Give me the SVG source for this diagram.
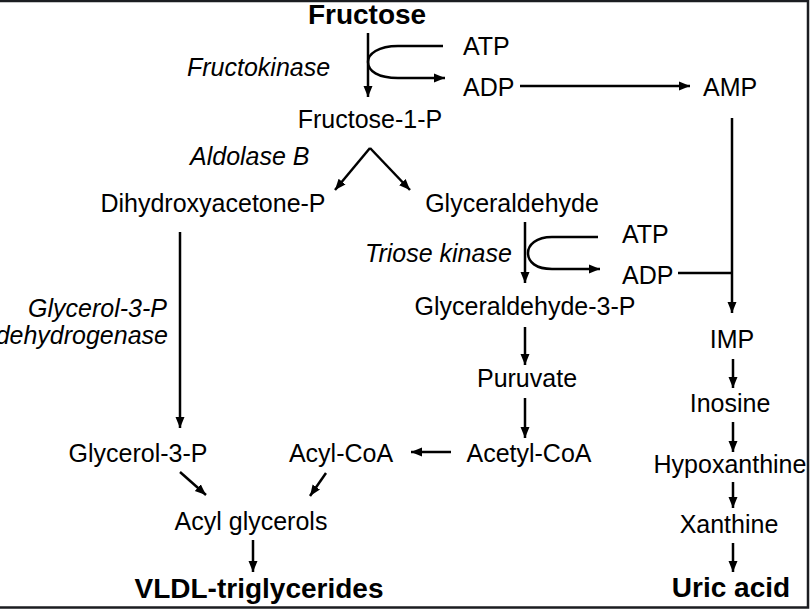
<svg xmlns="http://www.w3.org/2000/svg" width="810" height="609" viewBox="0 0 810 609">
<defs>
<marker id="ah" markerUnits="userSpaceOnUse" markerWidth="12" markerHeight="12" viewBox="0 0 12 12" refX="11" refY="6" orient="auto">
<path d="M0,1.5 L11,6 L0,10.5 Z" fill="#000"/>
</marker>
<style>
text{font-family:"Liberation Sans",Arial,sans-serif;font-size:25px;fill:#000}
.b{font-weight:bold;font-size:28px}
.i{font-style:italic}
.c{text-anchor:middle}
.e{text-anchor:end}
.ln{fill:none;stroke:#000;stroke-width:2.5}
.ar{marker-end:url(#ah)}
.bd{stroke:#1b1d21;stroke-width:2.5;fill:none}
</style>
</defs>
<rect width="810" height="609" fill="#fff"/>
<path class="bd" d="M0,1 H808 V607.5 H0"/>

<g id="connectors">
<path class="ln ar" d="M368,33 V97"/>
<path class="ln ar" d="M443,46 L398,46 C378,46 368,54 368,62 C368,71 378,78 398,78 L445,78"/>
<path class="ln ar" d="M520,86 H690"/>
<path class="ln ar" d="M732,118 V313"/>
<path class="ln" d="M678,273 H732"/>
<path class="ln ar" d="M370,148 L335,190"/>
<path class="ln ar" d="M370,148 L410,190"/>
<path class="ln ar" d="M525,222 V283"/>
<path class="ln ar" d="M598,237 L552,237 C536,237 528,245 528,253 C528,262 536,269 552,269 L600,269"/>
<path class="ln ar" d="M180,232 V428"/>
<path class="ln ar" d="M525,327 V365"/>
<path class="ln ar" d="M525,398 V438"/>
<path class="ln ar" d="M451,452 H411"/>
<path class="ln ar" d="M180,472 L206,495"/>
<path class="ln ar" d="M326,473 L310,496"/>
<path class="ln ar" d="M253,540 V572"/>
<path class="ln ar" d="M733,359 V388"/>
<path class="ln ar" d="M733,422 V452"/>
<path class="ln ar" d="M733,482 V508"/>
<path class="ln ar" d="M733,543 V572"/>
</g>

<g id="fructose"><text class="b c" x="367" y="24">Fructose</text></g>
<g id="fructokinase"><text class="i" x="187" y="76">Fructokinase</text></g>
<g id="atp1"><text x="463" y="55">ATP</text></g>
<g id="adp1"><text x="463" y="96">ADP</text></g>
<g id="amp"><text x="703" y="96">AMP</text></g>
<g id="fructose1p"><text class="c" x="370" y="128">Fructose-1-P</text></g>
<g id="aldolaseb"><text class="i" x="190" y="165">Aldolase B</text></g>
<g id="dhap"><text class="c" x="213" y="212">Dihydroxyacetone-P</text></g>
<g id="glyceraldehyde"><text class="c" x="512" y="212">Glyceraldehyde</text></g>
<g id="triosekinase"><text class="i" x="365" y="262">Triose kinase</text></g>
<g id="atp2"><text x="622" y="243">ATP</text></g>
<g id="adp2"><text x="622" y="284">ADP</text></g>
<g id="g3pdh"><text class="i e" x="167" y="317">Glycerol-3-P</text><text class="i e" x="168" y="344">dehydrogenase</text></g>
<g id="ga3p"><text class="c" x="525" y="315">Glyceraldehyde-3-P</text></g>
<g id="puruvate"><text class="c" x="527" y="387">Puruvate</text></g>
<g id="imp"><text class="c" x="732" y="348">IMP</text></g>
<g id="inosine"><text class="c" x="730" y="412">Inosine</text></g>
<g id="glycerol3p"><text class="c" x="138" y="462">Glycerol-3-P</text></g>
<g id="acylcoa"><text class="c" x="341" y="462">Acyl-CoA</text></g>
<g id="acetylcoa"><text class="c" x="529" y="462">Acetyl-CoA</text></g>
<g id="hypoxanthine"><text class="c" x="730" y="473">Hypoxanthine</text></g>
<g id="acylglycerols"><text class="c" x="251" y="530">Acyl glycerols</text></g>
<g id="xanthine"><text class="c" x="729" y="533">Xanthine</text></g>
<g id="vldl"><text class="b c" x="259" y="598">VLDL-triglycerides</text></g>
<g id="uricacid"><text class="b c" x="731" y="597">Uric acid</text></g>
</svg>
